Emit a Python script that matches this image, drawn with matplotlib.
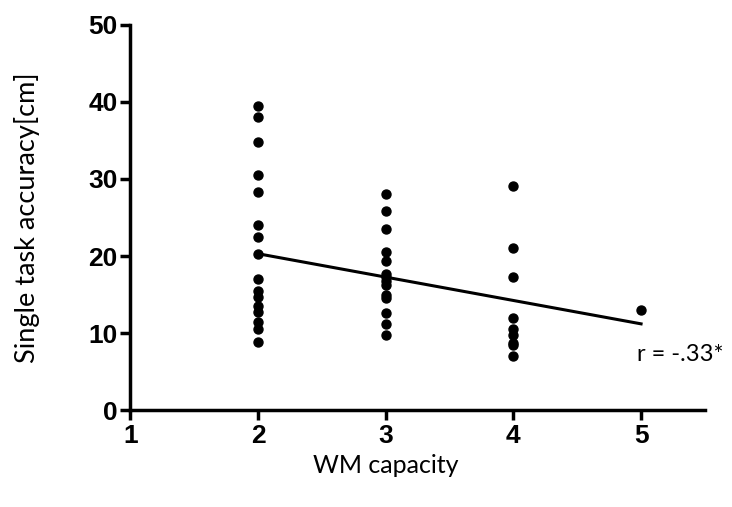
import numpy as np
import matplotlib
matplotlib.use("Agg")
import matplotlib.pyplot as plt

# WM capacity groups and single task accuracy values
wm2 = [39.5, 38.0, 34.8, 30.5, 28.3, 24.0, 22.5, 20.2, 17.0, 15.4, 14.7, 13.5, 12.8, 11.5, 10.5, 8.9]
wm3 = [28.1, 25.8, 23.5, 20.5, 19.4, 17.7, 17.3, 16.8, 16.2, 14.9, 14.6, 12.6, 11.2, 9.8]
wm4 = [29.1, 21.1, 17.3, 12.0, 10.5, 9.8, 8.7, 8.4, 7.05]
wm5 = [13.0]

x_vals = [2] * len(wm2) + [3] * len(wm3) + [4] * len(wm4) + [5] * len(wm5)
y_vals = wm2 + wm3 + wm4 + wm5

# regression line ends as drawn in the chart
fit_x = [2, 5]
fit_y = [20.3, 11.2]

xticks = [1, 2, 3, 4, 5]
yticks = [0, 10, 20, 30, 40, 50]

fig = plt.figure(figsize=(7.32, 5.07), dpi=100)
ax = fig.add_axes([0.178, 0.191, 0.785, 0.76])

ax.scatter(x_vals, y_vals, s=42, color="black", zorder=3, clip_on=False)
ax.plot(fit_x, fit_y, color="black", lw=2.2)

ax.set_xlim(1, 5.5)
ax.set_ylim(0, 50)
ax.set_xticks(xticks)
ax.set_yticks(yticks)

for s in ["top", "right"]:
    ax.spines[s].set_visible(False)
for s in ["left", "bottom"]:
    ax.spines[s].set_linewidth(2.5)

ax.tick_params(width=2.5, length=7, direction="out")
for lab in ax.get_xticklabels() + ax.get_yticklabels():
    lab.set_fontfamily("Liberation Sans")
    lab.set_fontweight("bold")
    lab.set_fontsize(19)
ax.tick_params(axis="x", pad=3)
ax.tick_params(axis="y", pad=2)

ax.set_xlabel("WM capacity", fontsize=18, family="Lato")
ax.set_ylabel("Single task accuracy[cm]", fontsize=19.5, family="Lato")
ax.xaxis.set_label_coords(0.444, -0.115)
ax.yaxis.set_label_coords(-0.158, 0.5)

ax.text(4.97, 7.2, "r = -.33*", fontsize=17, family="Lato", ha="left", va="center")

fig.savefig("out.png", dpi=100)
